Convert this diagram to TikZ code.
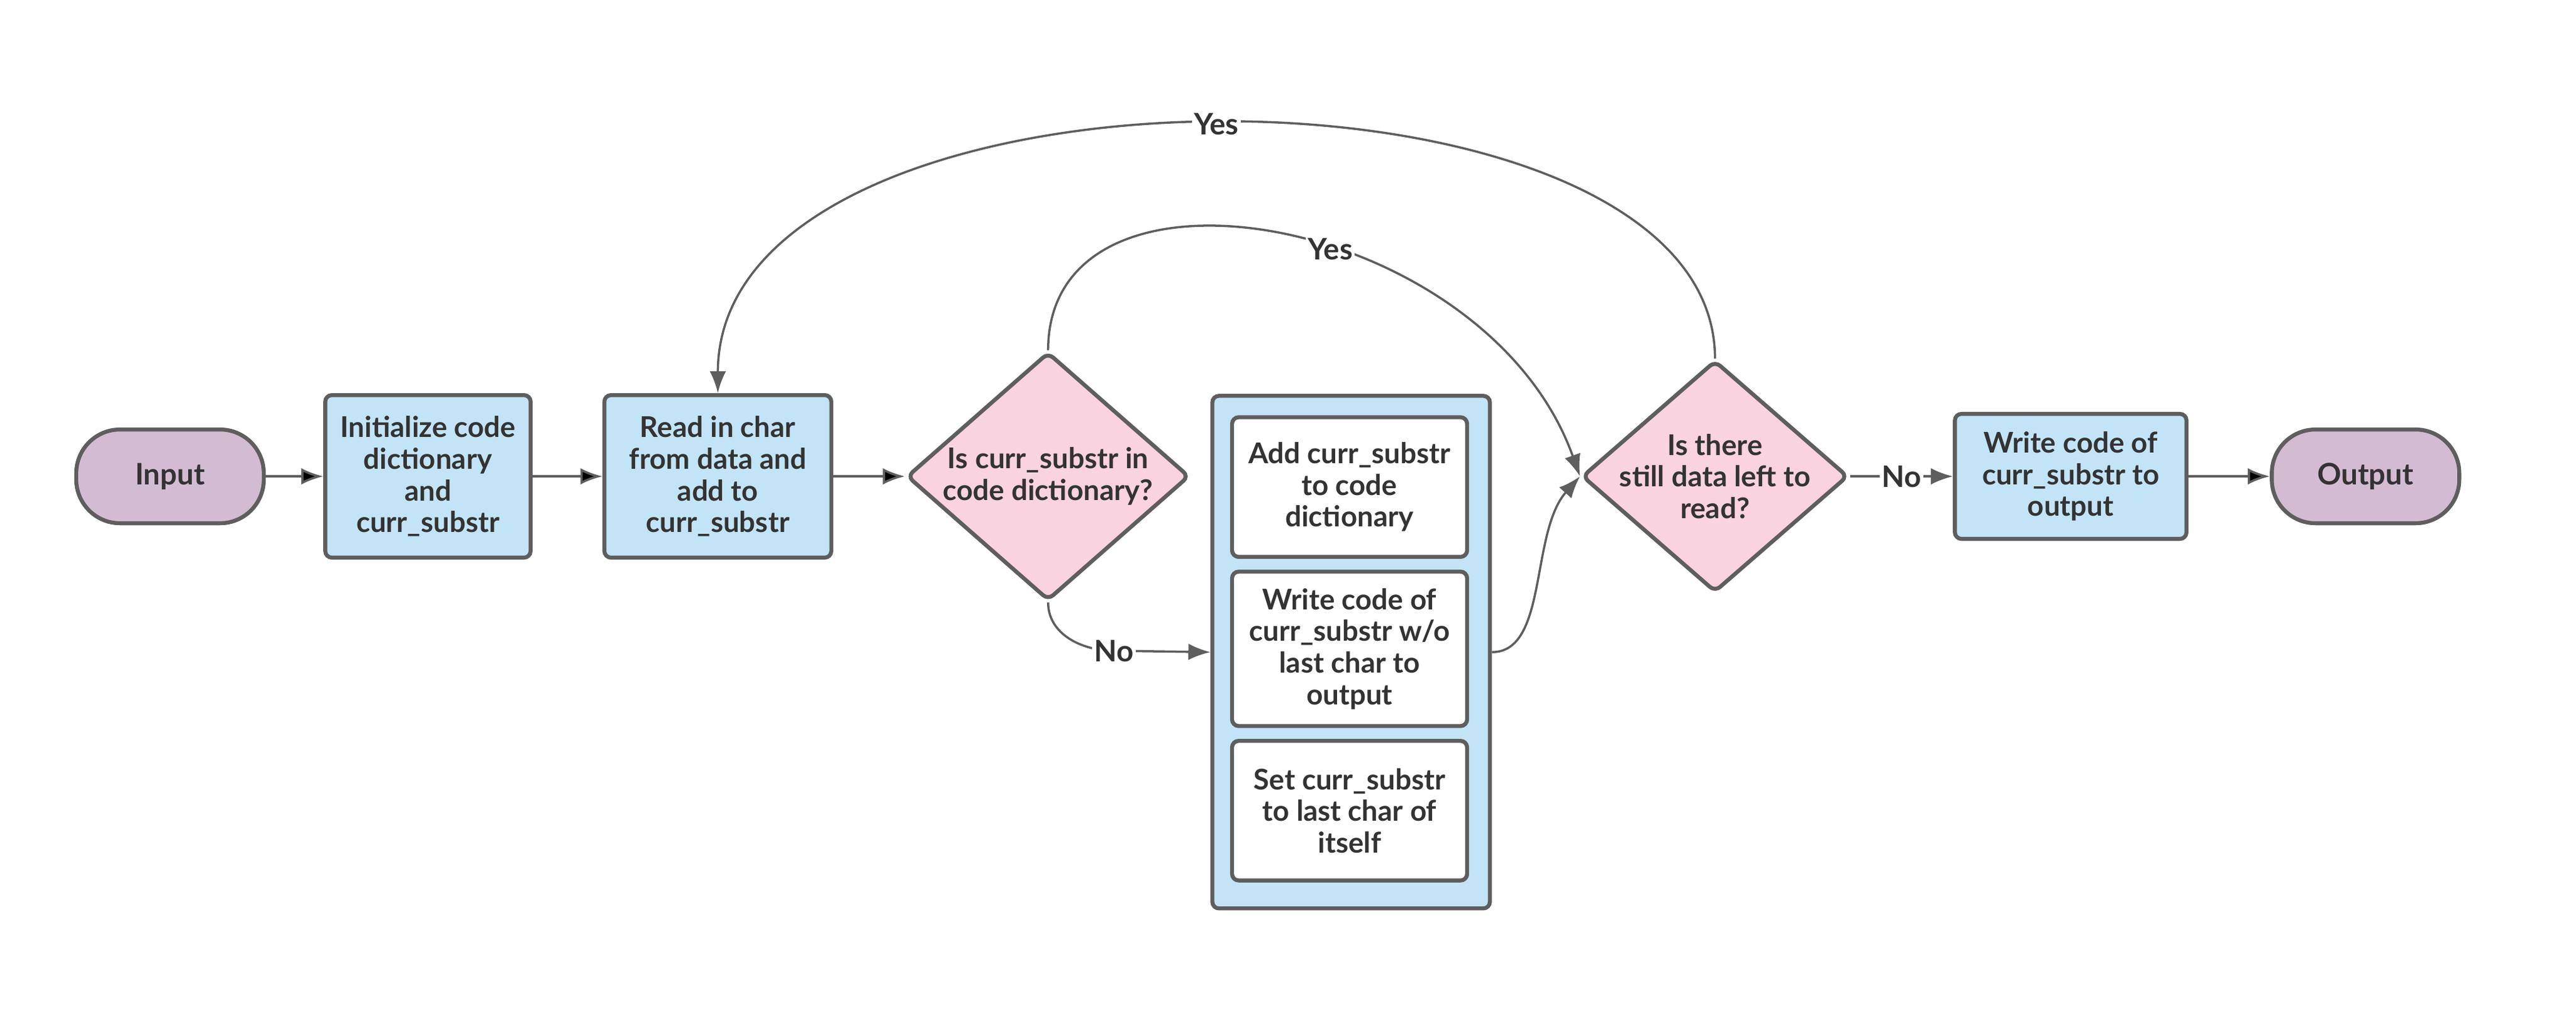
\documentclass[tikz,border=0pt]{standalone}
\usepackage{fontspec}
\setmainfont{Lato}
\usepackage{tikz}
\usetikzlibrary{shapes.geometric}
\usetikzlibrary{arrows.meta}
\definecolor{edgegray}{HTML}{5E5E5E}
\definecolor{txtgray}{HTML}{333333}
\definecolor{procblue}{HTML}{C3E4F6}
\definecolor{askpink}{HTML}{F9D3DF}
\definecolor{termpurple}{HTML}{D3BCD2}
\tikzset{box/.style={rectangle, rounded corners=3pt, draw=edgegray, line width=1.8pt, fill=procblue, text=txtgray, font=\fontsize{13}{14.4}\selectfont\bfseries, align=center, inner sep=2pt}}
\tikzset{term/.style={box, fill=termpurple, rounded corners=0.7cm, minimum width=3cm, minimum height=1.5cm, font=\fontsize{13.5}{15}\selectfont\bfseries}}
\tikzset{ask/.style={box, diamond, fill=askpink, shape aspect=1.14, inner sep=-4pt}}
\tikzset{stepbox/.style={box, fill=white, minimum width=3.76cm}}
\tikzset{flow/.style={draw=edgegray, line width=1pt, -{Latex[length=10pt,width=7.5pt]}}}
\tikzset{lbl/.style={fill=white, text=txtgray, font=\fontsize{13.5}{15}\selectfont\bfseries, inner sep=1pt}}

\begin{document}
\begin{tikzpicture}
  \useasboundingbox (0,-8.725) rectangle (41.21,7.621);
  % main row
  \node[term] (inp) at (2.72,0) {Input};
  \node[box, minimum width=3.285cm, minimum height=2.6cm] (init) at (6.846,0) {Initialize code\\dictionary\\and\\curr\_substr};
  \node[box, minimum width=3.63cm, minimum height=2.6cm] (read) at (11.484,0) {Read in char\\from data and\\add to\\curr\_substr};
  \node[ask, minimum width=4.52cm, minimum height=3.97cm] (isin) at (16.767,0) {Is curr\_substr in\\code dictionary?};
  \node[box, minimum width=4.44cm, minimum height=8.2cm] (cont) at (21.615,-2.812) {};
  \node[stepbox, minimum height=2.234cm] (add) at (21.59,-0.171) {Add curr\_substr\\to code\\dictionary};
  \node[stepbox, minimum height=2.47cm] (emit) at (21.59,-2.759) {Write code of\\curr\_substr w/o\\last char to\\output};
  \node[stepbox, minimum height=2.234cm] (reset) at (21.59,-5.348) {Set curr\_substr\\to last char of\\itself};
  \node[ask, minimum width=4.257cm, minimum height=3.705cm, shape aspect=1.15] (more) at (27.436,0) {Is there\\still data left to\\read?};
  \node[box, minimum width=3.705cm, minimum height=2cm] (wout) at (33.126,0) {Write code of\\curr\_substr to\\output};
  \node[term] (out) at (37.843,0) {Output};

  \foreach \u/\v in {
    inp/init,
    init/read,
    read/isin,
    wout/out%
  }{
    \draw[flow] (\u) edge (\v);
  }

  % loops back
  \draw[flow] (more.north) .. controls +(0,5.1) and +(0,5.65) .. node[lbl, pos=0.5] {Yes} (read.north);
  \draw[flow] (isin.north) .. controls +(0,3.415) and +(-1.5,4.2) .. node[lbl, pos=0.57] {Yes} (more.west);
  \draw[flow] (isin.south) to[out=-90, in=180] (17.82,-2.79) node[lbl] {No} -- (cont.west);
  \draw[flow] (cont.east) .. controls +(0.9,0) and +(-0.8,-0.9) .. (more.west);
  \draw[flow] (more.east) -- node[lbl] {No} (wout.west);
\end{tikzpicture}
\end{document}
